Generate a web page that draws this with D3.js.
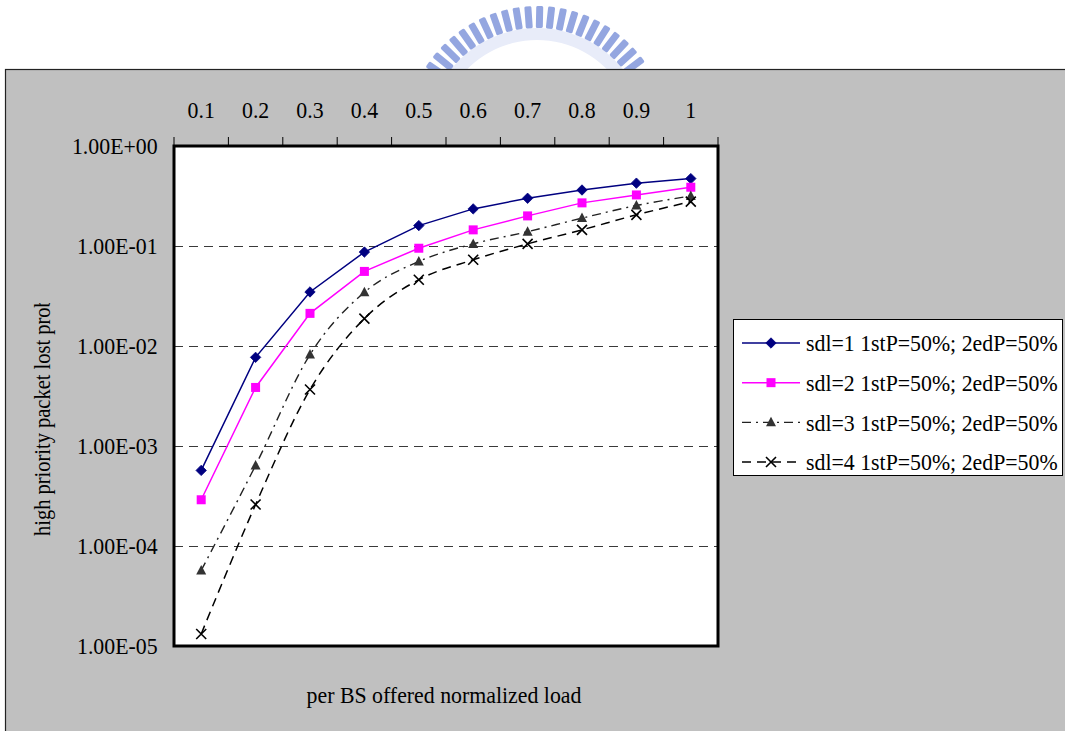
<!DOCTYPE html>
<html>
<head>
<meta charset="utf-8">
<script src="https://cdn.jsdelivr.net/npm/d3@7"></script>
<style>
  body { margin: 0; background: #fff; }
  svg { display: block; }
</style>
</head>
<body>
<script>
const loads = ["0.1", "0.2", "0.3", "0.4", "0.5", "0.6", "0.7", "0.8", "0.9", "1"]
const yTicks = [1, 1e-1, 1e-2, 1e-3, 1e-4, 1e-5]
const seriesNames = [
  "sdl=1 1stP=50%; 2edP=50%",
  "sdl=2 1stP=50%; 2edP=50%",
  "sdl=3 1stP=50%; 2edP=50%",
  "sdl=4 1stP=50%; 2edP=50%"
]
const sdl1 = [5.7e-4, 7.7e-3, 0.0347, 0.087, 0.16, 0.235, 0.30, 0.363, 0.425, 0.472]
const sdl2 = [2.9e-4, 3.85e-3, 0.0212, 0.0557, 0.095, 0.145, 0.20, 0.27, 0.324, 0.387]
const sdl3 = [5.7e-5, 6.4e-4, 8.2e-3, 0.0344, 0.070, 0.105, 0.139, 0.19, 0.254, 0.317]
const sdl4 = [1.32e-5, 2.6e-4, 3.67e-3, 0.0188, 0.046, 0.0728, 0.105, 0.145, 0.205, 0.278]

const W = 1065, H = 731
const plot = { left: 174, right: 718, top: 146, bottom: 646 }
const FONT = "'Liberation Serif', 'Times New Roman', serif"
const SX = 0.91   // the original font is a narrow Times look-alike

// styles per series (kept apart from the values)
const styles = [
  { color: "#000080", dash: null, width: 1.5, smooth: false, marker: "diamond", mfill: "#000080" },
  { color: "#ff00ff", dash: null, width: 1.5, smooth: false, marker: "square", mfill: "#ff00ff" },
  { color: "#222", dash: "9,5,2,5", width: 1.4, smooth: true, marker: "triangle", mfill: "#333" },
  { color: "#000", dash: "9,6", width: 1.5, smooth: true, marker: "x", mfill: "none" }
]
const series = [sdl1, sdl2, sdl3, sdl4].map((vals, i) => ({ name: seriesNames[i], values: vals, ...styles[i] }))

const svg = d3.select("body").append("svg")
  .attr("width", W).attr("height", H)
  .attr("viewBox", `0 0 ${W} ${H}`)

// faint seal watermark behind the panel
const wm = svg.append("g").attr("transform", "translate(537,138)")
wm.append("path")
  .attr("d", d3.arc().innerRadius(98).outerRadius(110).startAngle(-1.0).endAngle(1.0)())
  .attr("fill", "#e8ecf9")
d3.range(-56, 57, 5.2).forEach(a => {
  wm.append("rect")
    .attr("x", -3.5).attr("y", -132).attr("width", 7).attr("height", 22)
    .attr("rx", 1.5)
    .attr("fill", "#8196da").attr("opacity", 0.85)
    .attr("transform", `rotate(${a})`)
})

// gray chart panel
svg.append("rect")
  .attr("x", 5.5).attr("y", 69.5).attr("width", W).attr("height", H)
  .attr("fill", "#c0c0c0").attr("stroke", "#222").attr("stroke-width", 1.2)

const x = d3.scaleBand().domain(loads).range([plot.left, plot.right])
const y = d3.scaleLog().domain([1e-5, 1]).range([plot.bottom, plot.top])

// plot area
svg.append("rect")
  .attr("x", plot.left).attr("y", plot.top)
  .attr("width", plot.right - plot.left).attr("height", plot.bottom - plot.top)
  .attr("fill", "#fff")

// dashed gridlines
svg.append("g").selectAll("line")
  .data(yTicks.filter(t => t < 1 && t > 1e-5))
  .join("line")
  .attr("x1", plot.left).attr("x2", plot.right)
  .attr("y1", d => Math.round(y(d)) + 0.5).attr("y2", d => Math.round(y(d)) + 0.5)
  .attr("stroke", "#3a3a3a").attr("stroke-width", 1).attr("stroke-dasharray", "9,6")

// top category axis: labels centred in bands, ticks on band edges
const xAxis = svg.append("g")
  .attr("transform", `translate(0,${plot.top})`)
  .call(d3.axisTop(x).tickSize(0).tickPadding(28))
xAxis.select(".domain").remove()
xAxis.selectAll("text")
  .attr("font-family", FONT).attr("font-size", 24).attr("fill", "#000")
  .attr("transform", `scale(${SX},1)`)
svg.append("g").selectAll("line")
  .data(d3.range(loads.length + 1))
  .join("line")
  .attr("x1", i => plot.left + i * x.step()).attr("x2", i => plot.left + i * x.step())
  .attr("y1", plot.top).attr("y2", plot.top - 9)
  .attr("stroke", "#000").attr("stroke-width", 1)

// left log axis
const fmt = d => {
  const e = Math.round(Math.log10(d))
  return `1.00E${e < 0 ? "-" : "+"}${String(Math.abs(e)).padStart(2, "0")}`
}
const yAxis = svg.append("g")
  .attr("transform", `translate(${plot.left},0)`)
  .call(d3.axisLeft(y).tickValues(yTicks).tickFormat(fmt).tickSize(0).tickPadding(18))
yAxis.select(".domain").remove()
yAxis.selectAll("text")
  .attr("font-family", FONT).attr("font-size", 24).attr("fill", "#000")
  .attr("transform", `scale(${SX},1)`)

// series lines
series.forEach(s => {
  const line = d3.line()
    .x((d, i) => x(loads[i]) + x.bandwidth() / 2)
    .y(d => y(d))
    .curve(s.smooth ? d3.curveCatmullRom.alpha(0) : d3.curveLinear)
  svg.append("path")
    .datum(s.values)
    .attr("d", line)
    .attr("fill", "none")
    .attr("stroke", s.color)
    .attr("stroke-width", s.width)
    .attr("stroke-dasharray", s.dash)
})

function drawMarker(g, type, cx, cy, s) {
  if (type === "diamond") {
    g.append("path").attr("d", `M${cx},${cy - 5.2}L${cx + 5.2},${cy}L${cx},${cy + 5.2}L${cx - 5.2},${cy}Z`)
      .attr("fill", s.mfill).attr("stroke", s.color).attr("stroke-width", 0.8)
  } else if (type === "square") {
    g.append("rect").attr("x", cx - 4.5).attr("y", cy - 4.5).attr("width", 9).attr("height", 9)
      .attr("fill", s.mfill)
  } else if (type === "triangle") {
    g.append("path").attr("d", `M${cx},${cy - 5.5}L${cx + 5},${cy + 4}L${cx - 5},${cy + 4}Z`)
      .attr("fill", s.mfill)
  } else {
    g.append("path").attr("d", `M${cx - 5},${cy - 5}L${cx + 5},${cy + 5}M${cx - 5},${cy + 5}L${cx + 5},${cy - 5}`)
      .attr("stroke", "#000").attr("stroke-width", 1.6).attr("fill", "none")
  }
}

// markers
series.forEach(s => {
  const g = svg.append("g")
  s.values.forEach((v, i) => drawMarker(g, s.marker, x(loads[i]) + x.bandwidth() / 2, y(v), s))
})

// plot frame
svg.append("rect")
  .attr("x", plot.left).attr("y", plot.top)
  .attr("width", plot.right - plot.left).attr("height", plot.bottom - plot.top)
  .attr("fill", "none").attr("stroke", "#000").attr("stroke-width", 3)

// axis titles (the y title is cut off at the top, as in the original)
svg.append("defs").append("clipPath").attr("id", "ylabClip")
  .append("rect").attr("x", 0).attr("y", 303).attr("width", 120).attr("height", 300)
svg.append("g")
  .attr("clip-path", "url(#ylabClip)")
  .append("text")
  .attr("transform", `translate(50,536) rotate(-90) scale(${SX},1)`)
  .attr("font-family", FONT).attr("font-size", 22.5).attr("fill", "#000")
  .text("high priority packet lost prob")
svg.append("text")
  .attr("transform", `translate(444,703) scale(${SX},1)`)
  .attr("text-anchor", "middle")
  .attr("font-family", FONT).attr("font-size", 24).attr("fill", "#000")
  .text("per BS offered normalized load")

// legend
const lg = svg.append("g")
lg.append("rect")
  .attr("x", 733.5).attr("y", 319.5).attr("width", 329).attr("height", 156)
  .attr("fill", "#fff").attr("stroke", "#000").attr("stroke-width", 1)
const ly = d3.scalePoint().domain(seriesNames).range([343, 462])
series.forEach(s => {
  const cy = ly(s.name)
  lg.append("line")
    .attr("x1", 742).attr("x2", 800).attr("y1", cy).attr("y2", cy)
    .attr("stroke", s.color).attr("stroke-width", s.width).attr("stroke-dasharray", s.dash)
  drawMarker(lg, s.marker, 771, cy, s)
  lg.append("text")
    .attr("transform", `translate(806,${cy}) scale(${SX},1)`)
    .attr("dy", "0.35em")
    .attr("font-family", FONT).attr("font-size", 24).attr("fill", "#000")
    .text(s.name)
})
</script>
</body>
</html>
